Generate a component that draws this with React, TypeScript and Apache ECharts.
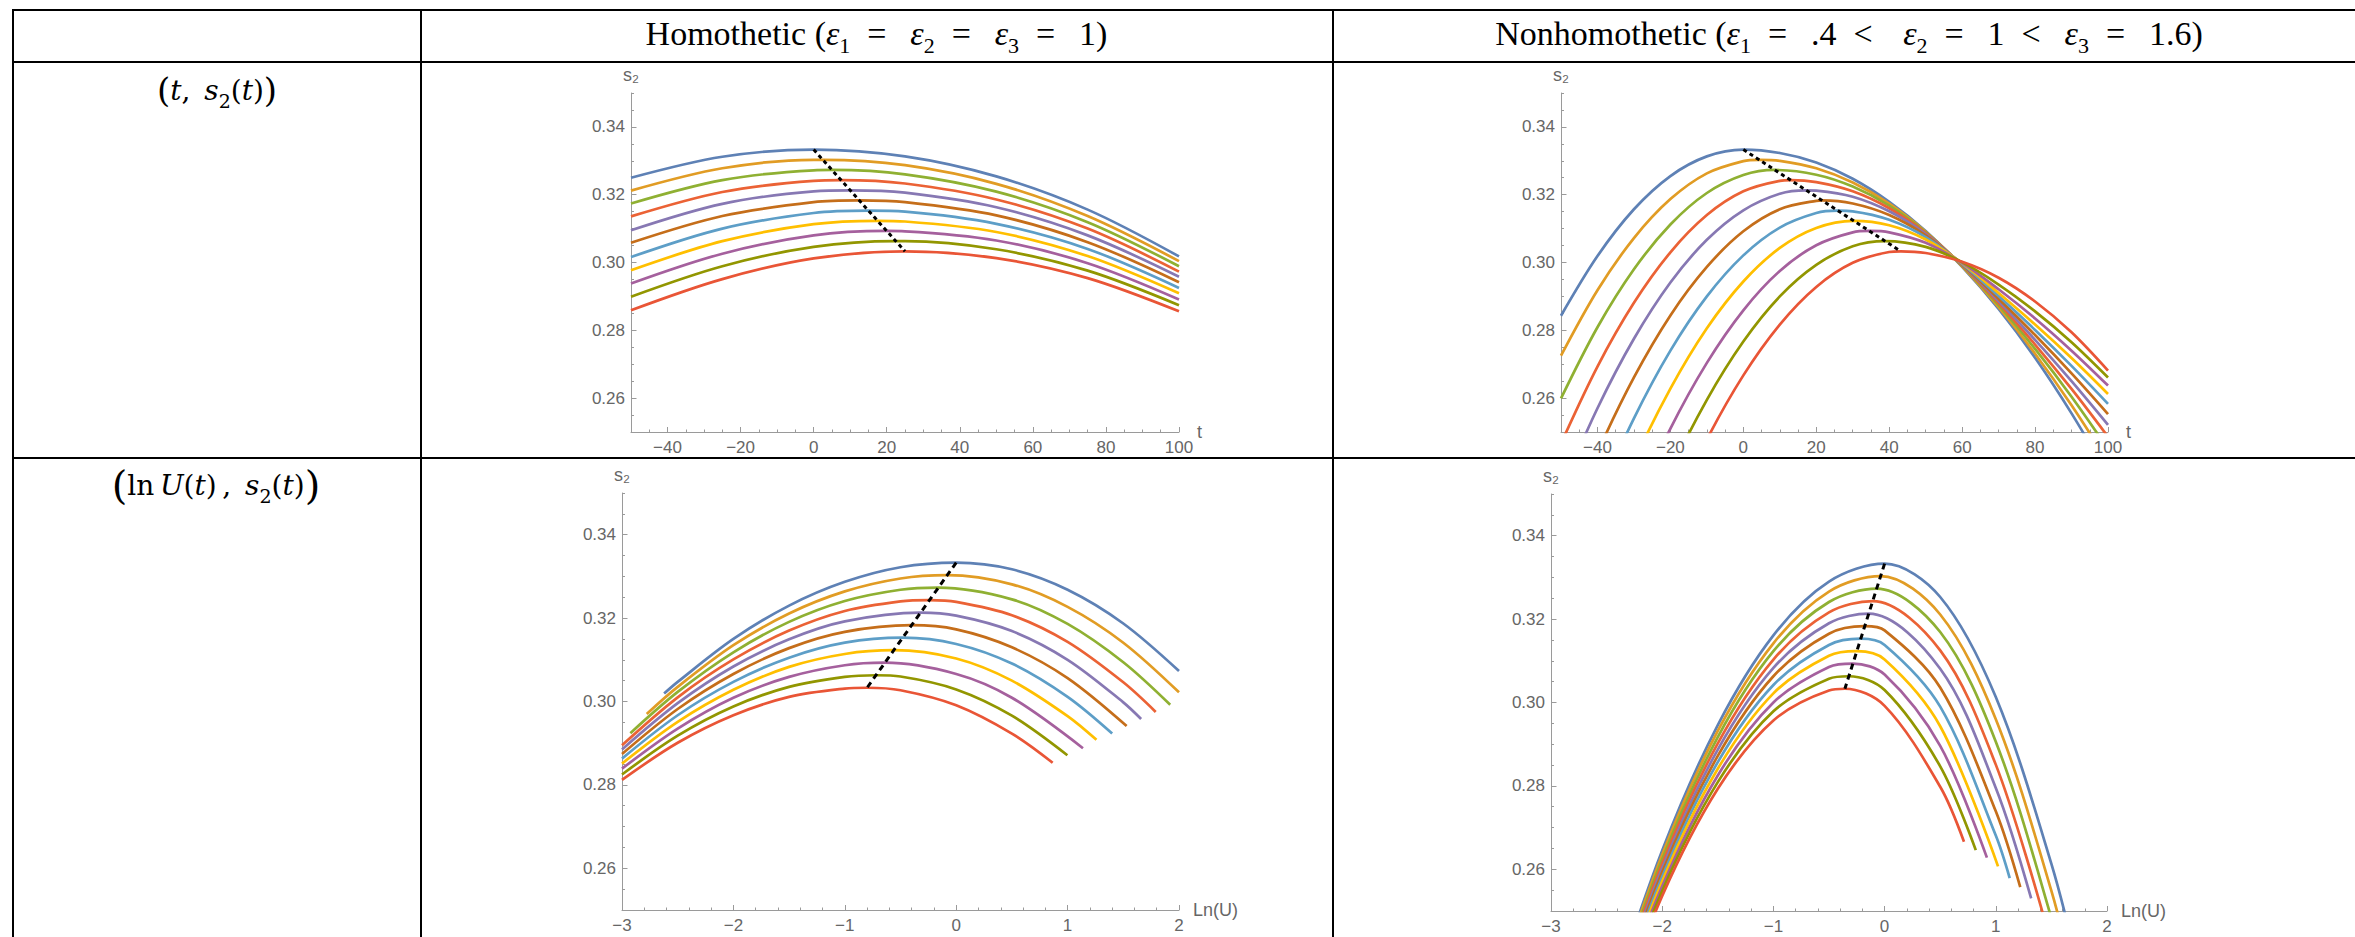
import React, { useEffect, useRef } from 'react';
import * as echarts from 'echarts';

// ---------- data ----------
const COLORS = ['#5E81B5', '#E19C24', '#8FB032', '#EB6235', '#8778B3', '#C56E1A', '#5D9EC7', '#FFBF00', '#A5609D', '#929600', '#E95536'];

const T_MAJOR = [-40, -20, 0, 20, 40, 60, 80, 100];
const S_MAJOR = [0.26, 0.28, 0.3, 0.32, 0.34];
const U_MAJOR = [-3, -2, -1, 0, 1, 2];

// Panel 1: homothetic, s2 against t
const P1_T = [-50, -25, 0, 25, 50, 75, 100];
const P1_S = [
  [0.3250, 0.3312, 0.3333, 0.3313, 0.3254, 0.3156, 0.3018],
  [0.3212, 0.3278, 0.3303, 0.3287, 0.3232, 0.3137, 0.3004],
  [0.3174, 0.3243, 0.3272, 0.3260, 0.3209, 0.3119, 0.2989],
  [0.3136, 0.3208, 0.3241, 0.3233, 0.3186, 0.3100, 0.2973],
  [0.3095, 0.3173, 0.3210, 0.3206, 0.3163, 0.3080, 0.2958],
  [0.3058, 0.3137, 0.3178, 0.3178, 0.3139, 0.3060, 0.2942],
  [0.3016, 0.3100, 0.3146, 0.3150, 0.3114, 0.3040, 0.2925],
  [0.2977, 0.3063, 0.3113, 0.3121, 0.3090, 0.3019, 0.2909],
  [0.2938, 0.3026, 0.3080, 0.3092, 0.3065, 0.2998, 0.2891],
  [0.2899, 0.2989, 0.3046, 0.3063, 0.3039, 0.2976, 0.2874],
  [0.2859, 0.2951, 0.3012, 0.3033, 0.3013, 0.2954, 0.2856],
];
const P1_PEAK_T = [0, 2.5, 5, 7.5, 10, 12.5, 15, 17.5, 20, 22.5, 25];
const P1_PEAK_S = [0.3333, 0.3303, 0.3273, 0.3243, 0.3213, 0.3183, 0.3153, 0.3123, 0.3093, 0.3063, 0.3033];

// Panel 2: nonhomothetic, s2 against t
const P2_T = [-50, -40, -30, -20, -10, 0, 10, 20, 30, 40, 50, 60, 70, 80, 90, 100];
const P2_S = [
  [0.2843, 0.3019, 0.3157, 0.3255, 0.3313, 0.3333, 0.3323, 0.3295, 0.3247, 0.3179, 0.3093, 0.2987, 0.2863, 0.2719, 0.2555, 0.2373],
  [0.2725, 0.2918, 0.3072, 0.3187, 0.3263, 0.3299, 0.3300, 0.3278, 0.3236, 0.3174, 0.3091, 0.2989, 0.2868, 0.2731, 0.2579, 0.2412],
  [0.2599, 0.2809, 0.2980, 0.3112, 0.3205, 0.3258, 0.3273, 0.3259, 0.3224, 0.3168, 0.3089, 0.2990, 0.2874, 0.2745, 0.2604, 0.2450],
  [0.2466, 0.2693, 0.2881, 0.3030, 0.3140, 0.3210, 0.3241, 0.3237, 0.3210, 0.3160, 0.3087, 0.2992, 0.2880, 0.2758, 0.2627, 0.2486],
  [0.2326, 0.2570, 0.2775, 0.2941, 0.3067, 0.3154, 0.3203, 0.3212, 0.3194, 0.3151, 0.3084, 0.2993, 0.2886, 0.2772, 0.2650, 0.2521],
  [0.2178, 0.2439, 0.2661, 0.2844, 0.2987, 0.3092, 0.3157, 0.3182, 0.3174, 0.3140, 0.3080, 0.2994, 0.2893, 0.2786, 0.2673, 0.2553],
  [0.2023, 0.2301, 0.2540, 0.2740, 0.2900, 0.3021, 0.3103, 0.3146, 0.3151, 0.3126, 0.3075, 0.2996, 0.2901, 0.2801, 0.2695, 0.2583],
  [0.1861, 0.2156, 0.2412, 0.2628, 0.2806, 0.2944, 0.3043, 0.3102, 0.3123, 0.3110, 0.3068, 0.2998, 0.2910, 0.2817, 0.2718, 0.2612],
  [0.1692, 0.2003, 0.2276, 0.2510, 0.2704, 0.2859, 0.2975, 0.3051, 0.3089, 0.3089, 0.3058, 0.2999, 0.2921, 0.2835, 0.2740, 0.2637],
  [0.1515, 0.1843, 0.2133, 0.2384, 0.2595, 0.2767, 0.2900, 0.2993, 0.3048, 0.3063, 0.3046, 0.3001, 0.2935, 0.2856, 0.2765, 0.2661],
  [0.1331, 0.1676, 0.1983, 0.2250, 0.2478, 0.2667, 0.2817, 0.2928, 0.2999, 0.3031, 0.3028, 0.3002, 0.2955, 0.2885, 0.2794, 0.2681],
];
const P2_PEAK_T = [0, 4.32, 8.64, 12.96, 17.28, 21.6, 25.92, 30.24, 34.56, 38.88, 43.2];
const P2_PEAK_S = [0.3333, 0.3303, 0.3273, 0.3243, 0.3213, 0.3183, 0.3153, 0.3123, 0.3093, 0.3063, 0.3033];

// Panel 3: homothetic, s2 against ln U
const P3_CURVES = [
  [[-2.622, 0.3019], [-2.5, 0.3047], [-2, 0.3150], [-1.5, 0.3230], [-1, 0.3287], [-0.5, 0.3322], [0, 0.3333], [0.5, 0.3317], [1, 0.3268], [1.5, 0.3187], [2, 0.3073]],
  [[-2.778, 0.2970], [-2.5, 0.3035], [-2, 0.3135], [-1.5, 0.3211], [-1, 0.3264], [-0.5, 0.3295], [-0.08, 0.3303], [0.5, 0.3281], [1, 0.3227], [1.5, 0.3141], [2, 0.3022]],
  [[-2.925, 0.2924], [-2.5, 0.3023], [-2, 0.3118], [-1.5, 0.3191], [-1, 0.3241], [-0.5, 0.3268], [-0.16, 0.3273], [0.5, 0.3245], [1, 0.3186], [1.5, 0.3094], [1.921, 0.2992]],
  [[-3, 0.2895], [-2.5, 0.3010], [-2, 0.3101], [-1.5, 0.3170], [-1, 0.3217], [-0.5, 0.3240], [-0.24, 0.3243], [0, 0.3239], [0.5, 0.3207], [1, 0.3143], [1.5, 0.3046], [1.791, 0.2975]],
  [[-3, 0.2885], [-2.5, 0.2996], [-2, 0.3084], [-1.5, 0.3149], [-1, 0.3192], [-0.32, 0.3213], [0, 0.3206], [0.5, 0.3169], [1, 0.3100], [1.5, 0.2998], [1.66, 0.2958]],
  [[-3, 0.2874], [-2.5, 0.2982], [-2, 0.3066], [-1.5, 0.3128], [-1, 0.3167], [-0.4, 0.3183], [0, 0.3173], [0.5, 0.3130], [1, 0.3056], [1.53, 0.2941]],
  [[-3, 0.2863], [-2.5, 0.2967], [-2, 0.3047], [-1.5, 0.3105], [-1, 0.3141], [-0.48, 0.3153], [0, 0.3138], [0.5, 0.3091], [1, 0.3011], [1.4, 0.2923]],
  [[-3, 0.2851], [-2.5, 0.2951], [-2, 0.3028], [-1.5, 0.3083], [-1, 0.3114], [-0.56, 0.3123], [0, 0.3103], [0.5, 0.3050], [1, 0.2965], [1.259, 0.2908]],
  [[-3, 0.2839], [-2.5, 0.2935], [-2, 0.3009], [-1.5, 0.3059], [-1, 0.3087], [-0.64, 0.3093], [0, 0.3066], [0.5, 0.3009], [1.138, 0.2888]],
  [[-3, 0.2825], [-2.5, 0.2918], [-2, 0.2988], [-1.5, 0.3035], [-1, 0.3059], [-0.72, 0.3063], [-0.5, 0.3060], [0, 0.3029], [0.5, 0.2966], [0.998, 0.2871]],
  [[-3, 0.2812], [-2.5, 0.2901], [-2, 0.2967], [-1.5, 0.3011], [-1, 0.3031], [-0.8, 0.3033], [-0.5, 0.3027], [0, 0.2991], [0.5, 0.2923], [0.866, 0.2853]],
];
const P3_PEAK_X = [0, -0.08, -0.16, -0.24, -0.32, -0.4, -0.48, -0.56, -0.64, -0.72, -0.8];
const P3_PEAK_S = [0.3333, 0.3303, 0.3273, 0.3243, 0.3213, 0.3183, 0.3153, 0.3123, 0.3093, 0.3063, 0.3033];

// Panel 4: nonhomothetic, s2 against ln U
const P4_CURVES = [
  [[-2.5, 0.2258], [-2, 0.2645], [-1.5, 0.2946], [-1, 0.3161], [-0.5, 0.3290], [0, 0.3333], [0.5, 0.3253], [1, 0.3013], [1.5, 0.2613], [1.75, 0.2353]],
  [[-2.5, 0.2251], [-2, 0.2635], [-1.5, 0.2932], [-1, 0.3142], [-0.5, 0.3266], [-0.0357, 0.3303], [0.5, 0.3211], [1, 0.2960], [1.5, 0.2548], [1.75, 0.2283]],
  [[-2.5, 0.2244], [-2, 0.2624], [-1.5, 0.2917], [-1, 0.3123], [-0.5, 0.3241], [-0.0714, 0.3273], [0.5, 0.3169], [1, 0.2906], [1.5, 0.2483], [1.7, 0.2269]],
  [[-2.5, 0.2238], [-2, 0.2614], [-1.5, 0.2902], [-1, 0.3103], [-0.5, 0.3216], [-0.1071, 0.3243], [0.5, 0.3125], [1, 0.2851], [1.42, 0.2497]],
  [[-2.5, 0.2231], [-2, 0.2603], [-1.5, 0.2887], [-1, 0.3083], [-0.5, 0.3190], [-0.1429, 0.3213], [0.5, 0.3081], [1, 0.2795], [1.318, 0.2530]],
  [[-2.5, 0.2224], [-2, 0.2593], [-1.5, 0.2872], [-1, 0.3063], [-0.5, 0.3165], [-0.1786, 0.3183], [0, 0.3173], [0.5, 0.3036], [1, 0.2739], [1.22, 0.2557]],
  [[-2.5, 0.2217], [-2, 0.2582], [-1.5, 0.2857], [-1, 0.3042], [-0.5, 0.3138], [-0.2143, 0.3153], [0, 0.3138], [0.5, 0.2990], [1, 0.2681], [1.125, 0.2579]],
  [[-2.5, 0.2210], [-2, 0.2571], [-1.5, 0.2841], [-1, 0.3022], [-0.5, 0.3112], [-0.25, 0.3123], [0, 0.3103], [0.5, 0.2943], [1.02, 0.2607]],
  [[-2.5, 0.2203], [-2, 0.2559], [-1.5, 0.2825], [-1, 0.3000], [-0.5, 0.3085], [-0.2857, 0.3093], [0, 0.3067], [0.5, 0.2896], [0.92, 0.2628]],
  [[-2.5, 0.2195], [-2, 0.2548], [-1.5, 0.2809], [-1, 0.2979], [-0.5, 0.3057], [-0.3214, 0.3063], [0, 0.3030], [0.5, 0.2847], [0.82, 0.2646]],
  [[-2.5, 0.2188], [-2, 0.2536], [-1.5, 0.2793], [-1, 0.2957], [-0.5, 0.3029], [-0.3571, 0.3033], [0, 0.2992], [0.5, 0.2798], [0.714, 0.2666]],
];
const P4_PEAK_X = [0, -0.0357, -0.0714, -0.1071, -0.1429, -0.1786, -0.2143, -0.25, -0.2857, -0.3214, -0.3571];
const P4_PEAK_S = [0.3333, 0.3303, 0.3273, 0.3243, 0.3213, 0.3183, 0.3153, 0.3123, 0.3093, 0.3063, 0.3033];

// ---------- styling ----------
const AXIS = '#9a9a9a';
const LABEL = '#666666';
const SANS = '"Liberation Sans", Arial, sans-serif';
const SERIF = '"Liberation Serif", "Times New Roman", serif';
const MATH = '"DejaVu Serif", serif';
const E = '\u2002';
const TH = '\u2009';

const minus = (v: number) => (v < 0 ? '\u2212' + String(-v) : String(v));
const fmtT = (v: number) => (Math.abs(Math.round(v) % 20) === 0 ? minus(Math.round(v)) : '');
const fmtU = (v: number) => minus(Math.round(v));
const fmtS = (v: number) => (Math.round(v * 1000) % 20 === 0 ? v.toFixed(2) : '');

function mergePeak(xs: number[], ys: number[], px: number, py: number, tol: number) {
  const pts: number[][] = [];
  xs.forEach((x, i) => {
    if (Math.abs(x - px) > tol) pts.push([x, ys[i]]);
  });
  pts.push([px, py]);
  pts.sort((a, b) => a[0] - b[0]);
  return pts;
}

function buildOption() {
  const grids = [
    { left: 631, top: 93, width: 548, height: 339 },
    { left: 1561, top: 93, width: 547, height: 339 },
    { left: 622, top: 493, width: 557, height: 417 },
    { left: 1551, top: 494, width: 556, height: 417 },
  ];
  const xAxes: any[] = [];
  const yAxes: any[] = [];
  const series: any[] = [];
  const axisLine = { show: true, onZero: false, lineStyle: { color: AXIS, width: 1 } };
  const lbl = { color: LABEL, fontSize: 17, fontFamily: SANS };

  function addPanel(g: number, kind: 't' | 'u', curves: number[][][], peaks: number[][], dash: number[]) {
    const xi = xAxes.length;
    if (kind === 't') {
      xAxes.push({
        type: 'value', gridIndex: g, position: 'bottom', min: -50, max: 100, interval: 5,
        axisLine, axisTick: { show: true, inside: true, length: 2.5, lineStyle: { color: AXIS } },
        axisLabel: { ...lbl, show: true, margin: 7, customValues: T_MAJOR, formatter: fmtT },
        splitLine: { show: false },
        name: 't', nameLocation: 'end', nameGap: 11, nameTextStyle: { ...lbl, fontSize: 18 },
      });
      xAxes.push({
        type: 'value', gridIndex: g, position: 'bottom', min: -50, max: 100, interval: 5,
        axisLine: { show: false, onZero: false },
        axisTick: { show: true, inside: true, length: 5, customValues: T_MAJOR, lineStyle: { color: AXIS } },
        axisLabel: { show: false }, splitLine: { show: false },
      });
    } else {
      xAxes.push({
        type: 'value', gridIndex: g, position: 'bottom', min: -3, max: 2, interval: 1,
        axisLine, axisTick: { show: true, inside: true, length: 5, lineStyle: { color: AXIS } },
        minorTick: { show: true, splitNumber: 5, length: 2.5, lineStyle: { color: AXIS } },
        axisLabel: { ...lbl, show: true, margin: 7, customValues: U_MAJOR, formatter: fmtU },
        splitLine: { show: false }, minorSplitLine: { show: false },
        name: 'Ln(U)', nameLocation: 'end', nameGap: 14, nameTextStyle: { ...lbl, fontSize: 18 },
      });
    }
    const yi = yAxes.length;
    yAxes.push({
      type: 'value', gridIndex: g, position: 'left', min: 0.25, max: 0.35, interval: 0.005,
      axisLine, axisTick: { show: true, inside: true, length: 3, lineStyle: { color: AXIS } },
      axisLabel: { ...lbl, show: true, margin: 6, customValues: S_MAJOR, formatter: fmtS },
      splitLine: { show: false },
      name: 's\u2082', nameLocation: 'end', nameGap: 9, nameTextStyle: { ...lbl, fontSize: 18 },
    });
    yAxes.push({
      type: 'value', gridIndex: g, position: 'left', min: 0.25, max: 0.35, interval: 0.005,
      axisLine: { show: false, onZero: false },
      axisTick: { show: true, inside: true, length: 5.5, customValues: S_MAJOR, lineStyle: { color: AXIS } },
      axisLabel: { show: false }, splitLine: { show: false },
    });
    curves.forEach((pts, k) => {
      series.push({
        type: 'line', xAxisIndex: xi, yAxisIndex: yi, data: pts, smooth: 0.33,
        symbol: 'none', showSymbol: false, clip: true, silent: true, z: 2,
        lineStyle: { color: COLORS[k], width: 2.7, cap: 'butt', join: 'round' }, itemStyle: { color: COLORS[k] },
      });
    });
    series.push({
      type: 'line', xAxisIndex: xi, yAxisIndex: yi, data: peaks, symbol: 'none', showSymbol: false,
      clip: true, silent: true, z: 3,
      lineStyle: { color: '#000', width: 3, type: dash }, itemStyle: { color: '#000' },
    });
  }

  const p1 = P1_S.map((ys, k) => mergePeak(P1_T, ys, P1_PEAK_T[k], P1_PEAK_S[k], 1.5));
  const p2 = P2_S.map((ys, k) => mergePeak(P2_T, ys, P2_PEAK_T[k], P2_PEAK_S[k], 1.5));
  addPanel(0, 't', p1, P1_PEAK_T.map((t, i) => [t, P1_PEAK_S[i]]), [4, 3.5]);
  addPanel(1, 't', p2, P2_PEAK_T.map((t, i) => [t, P2_PEAK_S[i]]), [4, 3.5]);
  addPanel(2, 'u', P3_CURVES, P3_PEAK_X.map((x, i) => [x, P3_PEAK_S[i]]), [6, 4.5]);
  addPanel(3, 'u', P4_CURVES, P4_PEAK_X.map((x, i) => [x, P4_PEAK_S[i]]), [6, 4.5]);

  const tline = (x1: number, y1: number, x2: number, y2: number) => ({
    type: 'line', silent: true, shape: { x1, y1, x2, y2 }, style: { stroke: '#000', lineWidth: 2 },
  });

  const headRich = {
    r: { fontFamily: SERIF, fontSize: 34, lineHeight: 46, fill: '#000' },
    e: { fontFamily: SERIF, fontStyle: 'italic', fontSize: 34, lineHeight: 46, fill: '#000' },
    b: { fontFamily: SERIF, fontSize: 22, lineHeight: 22, verticalAlign: 'bottom', fill: '#000' },
  };
  const OP = (s: string) => `{r|${E}${s}${E}${TH}}`;
  const header1 = `{r|Homothetic (}{e|\u03b5}{b|1}${OP('=')}{e|\u03b5}{b|2}${OP('=')}{e|\u03b5}{b|3}${OP('=')}{r|1)}`;
  const header2 = `{r|Nonhomothetic (}{e|\u03b5}{b|1}${OP('=')}{r|.4}${OP('<')}{r|${TH}}{e|\u03b5}{b|2}${OP('=')}{r|1}${OP('<')}{e|\u03b5}{b|3}${OP('=')}{r|1.6)}`;

  const rowRich = (pSize: number) => ({
    P: { fontFamily: MATH, fontSize: pSize, lineHeight: 40, fill: '#000' },
    i: { fontFamily: MATH, fontStyle: 'italic', fontSize: 28, lineHeight: 40, fill: '#000' },
    n: { fontFamily: MATH, fontSize: 28, lineHeight: 40, fill: '#000' },
    b: { fontFamily: MATH, fontSize: 19, lineHeight: 24, verticalAlign: 'bottom', fill: '#000' },
  });
  const row1 = `{P|(}{i|t}{n|,${E}}{i|s}{b|2}{n|(}{i|t}{n|)}{P|)}`;
  const row2 = `{P|(}{n|ln${TH}}{i|U}{n|(}{i|t}{n|)${TH},${E}}{i|s}{b|2}{n|(}{i|t}{n|)}{P|)}`;

  const elements: any[] = [
    tline(12, 10, 2355, 10),
    tline(12, 62, 2355, 62),
    tline(12, 458, 2355, 458),
    tline(13, 9, 13, 937),
    tline(421, 9, 421, 937),
    tline(1333, 9, 1333, 937),
    { type: 'text', x: 876.5, y: 33.5, silent: true, style: { text: header1, align: 'center', verticalAlign: 'middle', rich: headRich } },
    { type: 'text', x: 1849, y: 33.5, silent: true, style: { text: header2, align: 'center', verticalAlign: 'middle', rich: headRich } },
    { type: 'text', x: 217, y: 90, silent: true, style: { text: row1, align: 'center', verticalAlign: 'middle', rich: rowRich(34) } },
    { type: 'text', x: 216, y: 485, silent: true, style: { text: row2, align: 'center', verticalAlign: 'middle', rich: rowRich(40) } },
  ];

  return {
    animation: false,
    backgroundColor: '#ffffff',
    textStyle: { fontFamily: SANS },
    grid: grids.map((g) => ({ ...g, containLabel: false })),
    xAxis: xAxes,
    yAxis: yAxes,
    series,
    graphic: { elements },
  };
}

export default function App() {
  const ref = useRef<HTMLDivElement>(null);
  useEffect(() => {
    if (!ref.current) return;
    const chart = echarts.init(ref.current, null, { renderer: 'svg' });
    chart.setOption(buildOption() as any);
    return () => chart.dispose();
  }, []);
  return <div ref={ref} style={{ position: 'fixed', left: 0, top: 0, width: 2355, height: 937, background: '#fff' }} />;
}
